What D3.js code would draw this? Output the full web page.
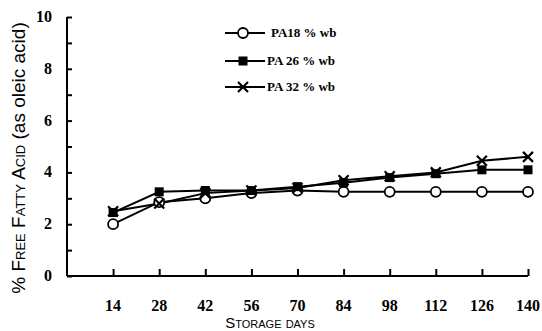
<!DOCTYPE html>
<html>
<head>
<meta charset="utf-8">
<script src="https://cdn.jsdelivr.net/npm/d3@7"></script>
<style>
  body { margin: 0; background: #fff; }
  svg { display: block; }
</style>
</head>
<body>
<div id="chart"></div>
<script>
var w = 542,
  h = 331;

// data
var days = [14, 28, 42, 56, 70, 84, 98, 112, 126, 140];
var pa18 = [2.0, 2.85, 3.0, 3.2, 3.3, 3.25, 3.25, 3.25, 3.25, 3.25];
var pa26 = [2.45, 3.25, 3.3, 3.3, 3.45, 3.6, 3.8, 3.95, 4.1, 4.1];
var pa32 = [2.5, 2.8, 3.2, 3.3, 3.4, 3.7, 3.85, 4.0, 4.45, 4.6];
var seriesNames = ['PA18 % wb', 'PA 26 % wb', 'PA 32 % wb'];
var yTicks = [0, 2, 4, 6, 8, 10];

var series = [
  { name: seriesNames[0], values: pa18, mark: 'circle' },
  { name: seriesNames[1], values: pa26, mark: 'square' },
  { name: seriesNames[2], values: pa32, mark: 'cross' }
];

var svg = d3.select('#chart').append('svg')
  .attr('width', w)
  .attr('height', h);

var x = d3.scaleLinear().domain([0, 140]).range([67, 528]);
var y = d3.scaleLinear().domain([0, 10]).range([276, 17]);

// axes
var xAxis = svg.append('g')
  .attr('transform', 'translate(0,' + y(0) + ')')
  .call(d3.axisTop(x).tickValues(days).tickSize(7).tickFormat(''));
xAxis.select('.domain').attr('d', 'M' + x(0) + ',0H' + x(140));

svg.append('g')
  .selectAll('text')
  .data(days)
  .enter().append('text')
  .attr('x', function(d) { return x(d); })
  .attr('y', 311)
  .attr('text-anchor', 'middle')
  .style('font-family', '"Liberation Serif", serif')
  .style('font-weight', 'bold')
  .style('font-size', '16px')
  .text(function(d) { return d; });

var yAxis = svg.append('g')
  .attr('transform', 'translate(' + x(0) + ',0)')
  .call(d3.axisRight(y).tickValues(d3.range(0, 11)).tickSize(5).tickFormat(''));
yAxis.select('.domain').attr('d', 'M0,' + y(10) + 'V' + y(0));

svg.selectAll('.domain, .tick line')
  .attr('stroke', '#000')
  .attr('stroke-width', 2);

svg.append('g')
  .selectAll('text')
  .data(yTicks)
  .enter().append('text')
  .attr('x', 52)
  .attr('y', function(d) { return y(d) + 5; })
  .attr('text-anchor', 'end')
  .style('font-family', '"Liberation Serif", serif')
  .style('font-weight', 'bold')
  .style('font-size', '16px')
  .text(function(d) { return d; });

// axis titles
var yTitle = svg.append('text')
  .attr('transform', 'translate(25,158) rotate(-90)')
  .attr('text-anchor', 'middle')
  .style('font-family', '"Liberation Sans", Arial, sans-serif')
  .style('font-size', '19px');
yTitle.append('tspan').text('% ');
yTitle.append('tspan').style('font-variant', 'small-caps').text('Free Fatty Acid');
yTitle.append('tspan').text(' (as oleic acid)');

svg.append('text')
  .attr('x', 270)
  .attr('y', 328)
  .attr('text-anchor', 'middle')
  .style('font-family', '"Liberation Sans", Arial, sans-serif')
  .style('font-size', '15px')
  .style('font-variant', 'small-caps')
  .text('Storage days');

// markers
function drawMark(g, kind, cx, cy) {
  if (kind === 'circle') {
    g.append('circle')
      .attr('cx', cx).attr('cy', cy).attr('r', 5)
      .attr('fill', '#fff').attr('stroke', '#000').attr('stroke-width', 1.8);
  } else if (kind === 'square') {
    g.append('rect')
      .attr('x', cx - 4.5).attr('y', cy - 4.5)
      .attr('width', 9).attr('height', 9)
      .attr('fill', '#000');
  } else {
    g.append('path')
      .attr('d', 'M' + (cx - 5) + ',' + (cy - 5) + 'L' + (cx + 5) + ',' + (cy + 5) +
        'M' + (cx - 5) + ',' + (cy + 5) + 'L' + (cx + 5) + ',' + (cy - 5))
      .attr('stroke', '#000').attr('stroke-width', 2.2).attr('fill', 'none');
  }
}

var line = d3.line()
  .x(function(d, i) { return x(days[i]); })
  .y(function(d) { return y(d); });

// lines first, then marks on top
series.forEach(function(s) {
  svg.append('path')
    .attr('d', line(s.values))
    .attr('fill', 'none')
    .attr('stroke', '#000')
    .attr('stroke-width', 2);
});
series.forEach(function(s) {
  var g = svg.append('g');
  s.values.forEach(function(v, i) {
    drawMark(g, s.mark, x(days[i]), y(v));
  });
});

// legend
var legendY = [33, 61, 87];
series.forEach(function(s, i) {
  var g = svg.append('g');
  g.append('line')
    .attr('x1', 225).attr('x2', 265)
    .attr('y1', legendY[i]).attr('y2', legendY[i])
    .attr('stroke', '#000').attr('stroke-width', 2);
  drawMark(g, s.mark, 243, legendY[i]);
  g.append('text')
    .attr('x', i === 0 ? 271 : 267)
    .attr('y', legendY[i] + 4)
    .style('font-family', '"Liberation Serif", serif')
    .style('font-weight', 'bold')
    .style('font-size', '13px')
    .text(s.name);
});
</script>
</body>
</html>
